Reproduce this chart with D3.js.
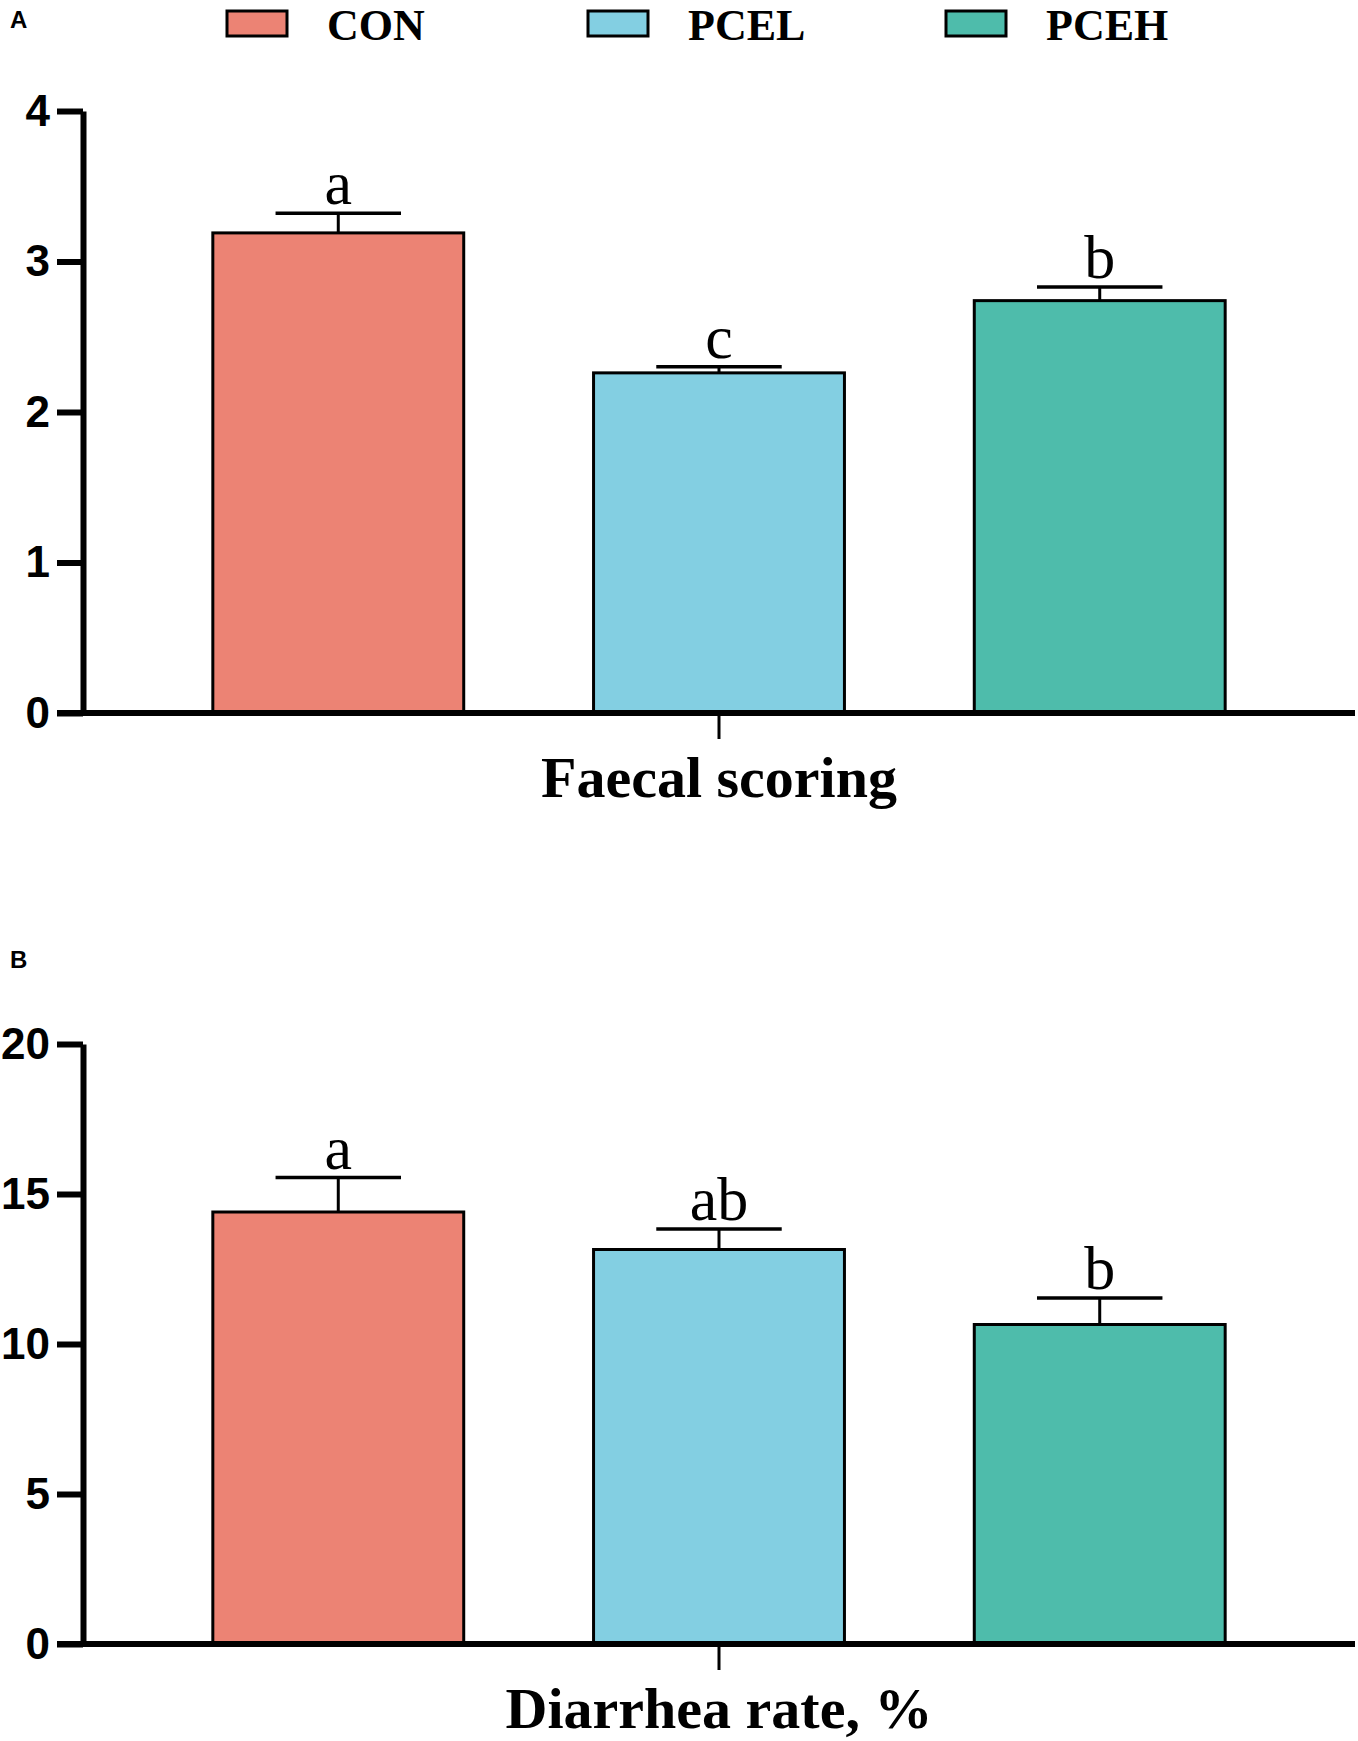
<!DOCTYPE html>
<html>
<head>
<meta charset="utf-8">
<script src="https://cdn.jsdelivr.net/npm/d3@7"></script>
<style>
  body { margin: 0; background: #fff; }
  svg { display: block; }
</style>
</head>
<body>
<div id="chart"></div>
<script>
// groups and colours
var groups = ["CON", "PCEL", "PCEH"];
var colors = ["#EC8374", "#83CFE2", "#4EBCAB"];

// panel A - faecal scoring
var faecalMean = [3.19, 2.26, 2.74];
var faecalSem = [0.13, 0.04, 0.09];
var faecalLetters = ["a", "c", "b"];
var faecalTicks = [0, 1, 2, 3, 4];

// panel B - diarrhea rate
var diarrheaMean = [14.4, 13.15, 10.65];
var diarrheaSem = [1.15, 0.68, 0.88];
var diarrheaLetters = ["a", "ab", "b"];
var diarrheaTicks = [0, 5, 10, 15, 20];

var W = 1358, H = 1741;
var svg = d3.select("#chart").append("svg")
    .attr("width", W)
    .attr("height", H);

var serif = "'Liberation Serif','Times New Roman',serif";
var sans = "'Liberation Sans',Arial,sans-serif";

// x band scale shared by both panels
var x = d3.scaleBand()
    .domain(groups)
    .range([83, 1355])
    .paddingInner(0.341)
    .paddingOuter(0.341);

//legend
var legend = svg.append("g")
var legendX = [227, 588, 946]
groups.forEach(function(g, i){
    legend.append("rect")
        .attr("x", legendX[i])
        .attr("y", 11)
        .attr("width", 60)
        .attr("height", 25)
        .attr("fill", colors[i])
        .attr("stroke", "#000")
        .attr("stroke-width", 3)
    legend.append("text")
        .attr("x", legendX[i] + 100)
        .attr("y", 40)
        .attr("font-family", serif)
        .attr("font-weight", "bold")
        .attr("font-size", 44)
        .text(g)
})

var drawPanel = function(p){
    var y = d3.scaleLinear().domain([0, p.ticks[p.ticks.length - 1]]).range([p.y0, p.y1]);
    var g = svg.append("g");

    // panel label
    g.append("text")
        .attr("x", 10)
        .attr("y", p.labelY)
        .attr("font-family", sans)
        .attr("font-weight", "bold")
        .attr("font-size", 24)
        .text(p.label)

    // bars
    var data = groups.map(function(d, i){
        return {name: d, mean: p.mean[i], sem: p.sem[i], letter: p.letters[i], color: colors[i]}
    })

    g.selectAll(".bar")
        .data(data)
        .enter()
        .append("rect")
        .attr("class", "bar")
        .attr("x", function(d){ return x(d.name) })
        .attr("y", function(d){ return y(d.mean) })
        .attr("width", x.bandwidth())
        .attr("height", function(d){ return y(0) - y(d.mean) })
        .attr("fill", function(d){ return d.color })
        .attr("stroke", "#000")
        .attr("stroke-width", 3)

    // error bars (upper only)
    data.forEach(function(d){
        var cx = x(d.name) + x.bandwidth() / 2
        var top = y(d.mean + d.sem)
        g.append("line")
            .attr("x1", cx).attr("x2", cx)
            .attr("y1", y(d.mean)).attr("y2", top)
            .attr("stroke", "#000").attr("stroke-width", 3)
        g.append("line")
            .attr("x1", cx - x.bandwidth() / 4).attr("x2", cx + x.bandwidth() / 4)
            .attr("y1", top).attr("y2", top)
            .attr("stroke", "#000").attr("stroke-width", 3.5)
        g.append("text")
            .attr("x", cx)
            .attr("y", top - 9)
            .attr("text-anchor", "middle")
            .attr("font-family", serif)
            .attr("font-size", 62)
            .text(d.letter)
    })

    // y axis
    var yAxis = d3.axisLeft(y)
        .tickValues(p.ticks)
        .tickSize(26)
        .tickSizeOuter(0)
        .tickPadding(7)
        .tickFormat(d3.format("d"))
    var ya = g.append("g")
        .attr("transform", "translate(83,0)")
        .call(yAxis)
    ya.selectAll("path, line")
        .attr("stroke", "#000")
        .attr("stroke-width", 6)
    ya.selectAll("text")
        .attr("font-family", sans)
        .attr("font-weight", "bold")
        .attr("font-size", 44)
        .attr("fill", "#000")

    // x axis line + centre tick
    g.append("line")
        .attr("x1", 57).attr("x2", 1355)
        .attr("y1", y(0)).attr("y2", y(0))
        .attr("stroke", "#000").attr("stroke-width", 6)
    var mid = x(groups[1]) + x.bandwidth() / 2
    g.append("line")
        .attr("x1", mid).attr("x2", mid)
        .attr("y1", y(0)).attr("y2", y(0) + 26)
        .attr("stroke", "#000").attr("stroke-width", 3)

    // axis title
    g.append("text")
        .attr("x", mid)
        .attr("y", p.titleY)
        .attr("text-anchor", "middle")
        .attr("font-family", serif)
        .attr("font-weight", "bold")
        .attr("font-size", 58)
        .text(p.title)
}

drawPanel({label: "A", labelY: 28, mean: faecalMean, sem: faecalSem, letters: faecalLetters,
    ticks: faecalTicks, y0: 713, y1: 111, title: "Faecal scoring", titleY: 797})
drawPanel({label: "B", labelY: 968, mean: diarrheaMean, sem: diarrheaSem, letters: diarrheaLetters,
    ticks: diarrheaTicks, y0: 1644, y1: 1044, title: "Diarrhea rate, %", titleY: 1728})
</script>
</body>
</html>
